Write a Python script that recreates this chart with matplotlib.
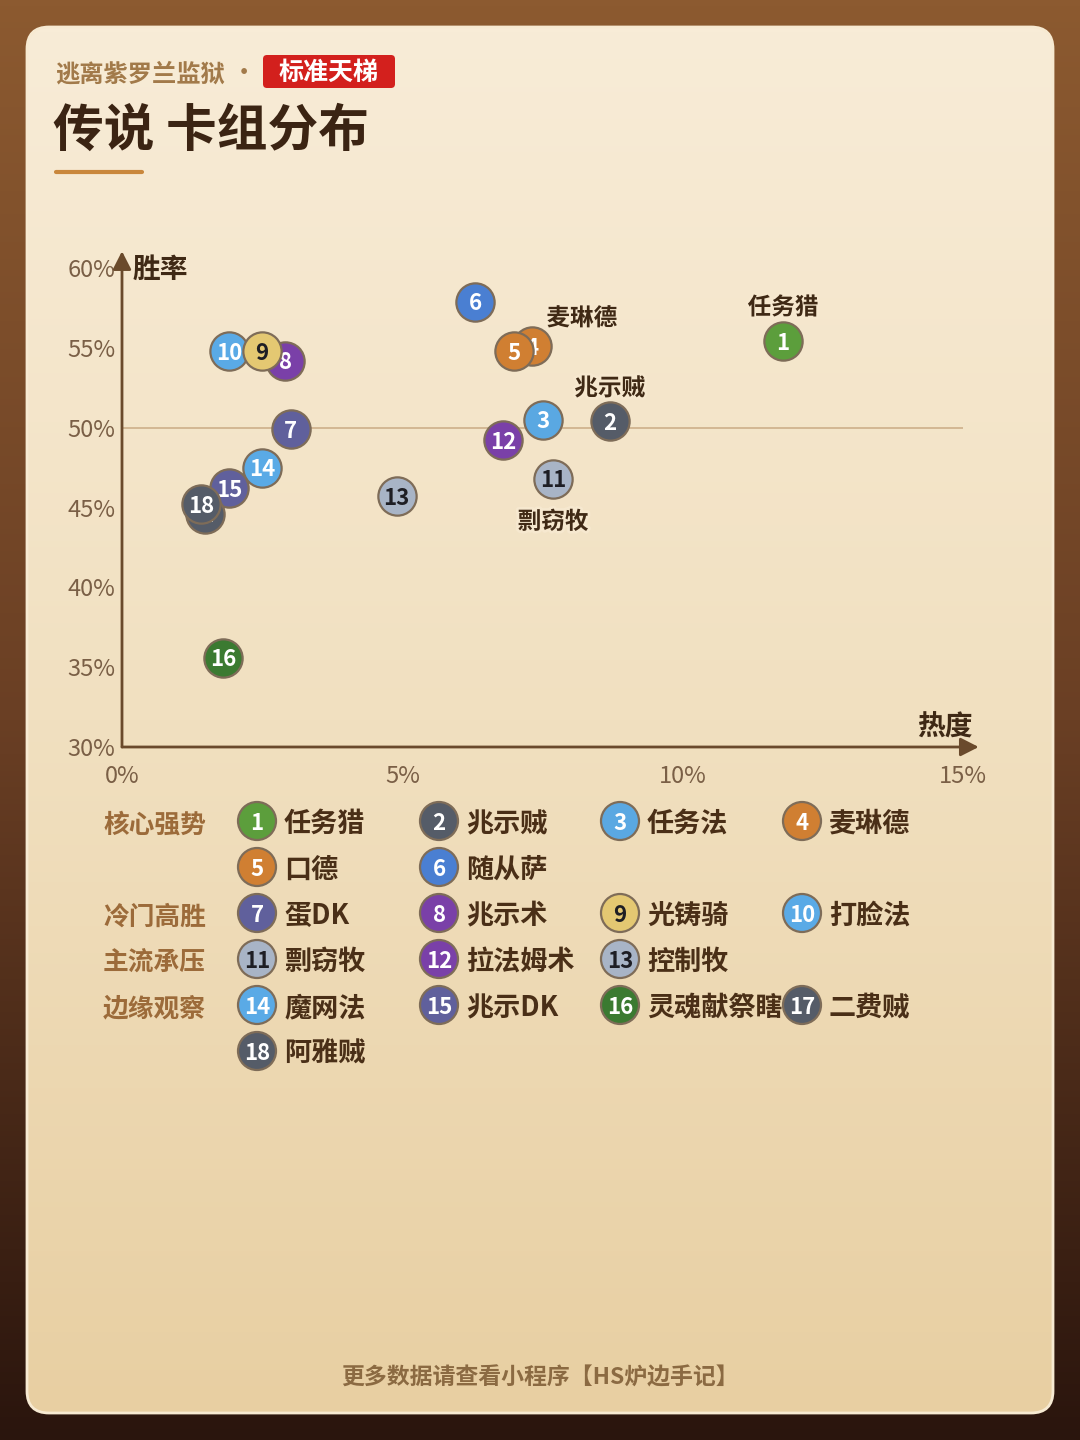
import numpy as np
import matplotlib.pyplot as plt
from matplotlib.patches import FancyBboxPatch, Circle
from matplotlib.colors import LinearSegmentedColormap
import matplotlib.patheffects as pe

plt.rcParams['font.family'] = ['Noto Sans CJK SC', 'DejaVu Sans']

# deck data
deck_no = list(range(1, 19))
deck_names = ['任务猎', '兆示贼', '任务法', '麦琳德', '口德', '随从萨',
              '蛋DK', '兆示术', '光铸骑', '打脸法',
              '剽窃牧', '拉法姆术', '控制牧',
              '魔网法', '兆示DK', '灵魂献祭瞎', '二费贼', '阿雅贼']
popularity = [11.79, 8.70, 7.51, 7.31, 6.99, 6.30,
              3.01, 2.91, 2.50, 1.91,
              7.69, 6.80, 4.90,
              2.50, 1.91, 1.80, 1.48, 1.41]
win_rate = [55.4, 50.4, 50.5, 55.1, 54.8, 57.9,
            49.9, 54.2, 54.8, 54.8,
            46.8, 49.2, 45.7,
            47.5, 46.2, 35.6, 44.6, 45.2]
tiers = ['核心强势'] * 6 + ['冷门高胜'] * 4 + ['主流承压'] * 3 + ['边缘观察'] * 5
tier_names = ['核心强势', '冷门高胜', '主流承压', '边缘观察']
deck_colors = ['#5c9e3c', '#555c68', '#5aa8e2', '#d07f32', '#d07f32', '#4a7fd2',
               '#60609c', '#7a40a8', '#e4c872', '#5aaae6',
               '#a8b4c6', '#7a40a8', '#a8b4c6',
               '#5aaae6', '#60609c', '#3b7a31', '#555c68', '#555c68']
dark_num = [9, 11, 13]
labelled = [1, 2, 4, 11]
x_ticks = [0, 5, 10, 15]
y_ticks = [30, 35, 40, 45, 50, 55, 60]

# drawing order (10 sits under 9 in the source)
draw_order = [1, 2, 3, 4, 5, 6, 7, 8, 10, 9, 11, 12, 13, 14, 15, 16, 17, 18]

fig = plt.figure(figsize=(10.8, 14.4), dpi=100)
bg = fig.add_axes([0, 0, 1, 1])
bg.set_xlim(0, 1080)
bg.set_ylim(1440, 0)
bg.axis('off')

outer = LinearSegmentedColormap.from_list('outer', ['#8c5a30', '#6a3f24', '#2a150d'])
grad = np.linspace(0, 1, 256).reshape(-1, 1) * np.ones((1, 4))
bg.imshow(grad, extent=(0, 1080, 1440, 0), cmap=outer, aspect='auto', zorder=0)

card = FancyBboxPatch((27, 27), 1026, 1386, boxstyle='round,pad=0,rounding_size=22',
                      fc='none', ec='#f7ead2', lw=2, zorder=2)
bg.add_patch(card)
inner = LinearSegmentedColormap.from_list('card', ['#f8ecd7', '#f1e0c0', '#e8cfa2'])
im = bg.imshow(grad, extent=(27, 1053, 1413, 27), cmap=inner, aspect='auto', zorder=1)
im.set_clip_path(card)

# header
bg.text(55, 74, '逃离紫罗兰监狱', fontsize=17.5, weight='bold', color='#a27a4a', va='center')
bg.text(244, 74, '•', fontsize=16, weight='bold', color='#a27a4a', va='center', ha='center')
bg.add_patch(FancyBboxPatch((263, 55), 132, 33, boxstyle='round,pad=0,rounding_size=4',
                            fc='#d3201d', ec='none', zorder=3))
bg.text(329, 73, '标准天梯', fontsize=18, weight='bold', color='white',
        va='center', ha='center', zorder=4)
bg.text(53, 131, '传说 卡组分布', fontsize=36.5, weight='bold', color='#3b2413', va='center')
bg.plot([56, 142], [172, 172], lw=3, color='#c9873c', solid_capstyle='round')

# scatter panel
ax = fig.add_axes([122 / 1080, 1 - 747 / 1440, 841 / 1080, 479 / 1440])
ax.set_xlim(0, 15)
ax.set_ylim(30, 60)
ax.patch.set_alpha(0)
for s in ax.spines.values():
    s.set_visible(False)
ax.set_xticks(x_ticks)
ax.set_xticklabels([f'{t}%' for t in x_ticks])
ax.set_yticks(y_ticks)
ax.set_yticklabels([f'{t}%' for t in y_ticks])
ax.tick_params(length=0, labelsize=17, labelcolor='#7a5f46')
ax.tick_params(axis='x', pad=13)
ax.tick_params(axis='y', pad=5)

axis_col = '#6a4a2c'
ax.annotate('', xy=(15.28, 30), xytext=(0, 30), annotation_clip=False,
            arrowprops=dict(arrowstyle='-|>,head_length=0.55,head_width=0.28',
                            mutation_scale=20, color=axis_col, lw=2, shrinkA=0, shrinkB=0))
ax.annotate('', xy=(0, 61.05), xytext=(0, 30), annotation_clip=False,
            arrowprops=dict(arrowstyle='-|>,head_length=0.55,head_width=0.28',
                            mutation_scale=20, color=axis_col, lw=2, shrinkA=0, shrinkB=0))
ax.plot([0, 15], [50, 50], color='#cdb08a', lw=1.2, zorder=1)

for k, n in enumerate(draw_order):
    i = n - 1
    ax.scatter(popularity[i], win_rate[i], s=760, c=deck_colors[i], edgecolors='#7e6c58',
               linewidths=1.6, zorder=3 + k, clip_on=False)
    ax.annotate(str(n), (popularity[i], win_rate[i]), xytext=(0, -1.5),
                textcoords='offset points', ha='center', va='center',
                fontsize=16, weight='bold', zorder=3.5 + k,
                color='#1e1e24' if n in dark_num else 'white')

# names beside some points, offset in pixels
offsets = {1: (0, 34), 2: (0, 33), 4: (50, 28), 11: (0, -43)}
for n in labelled:
    i = n - 1
    dx, dy = offsets[n]
    ax.annotate(deck_names[i], (popularity[i], win_rate[i]), xytext=(dx * 0.72, dy * 0.72),
                textcoords='offset points', ha='center', va='center', fontsize=17,
                weight='bold', color='#3f2915', zorder=30,
                path_effects=[pe.withStroke(linewidth=4, foreground='#f6e8cf')])

bg.text(133, 270, '胜率', fontsize=20, weight='bold', color='#3f2915', va='center', zorder=5)
bg.text(973, 728, '热度', fontsize=20, weight='bold', color='#3f2915', va='center',
        ha='right', zorder=5)

# legend by tier
col_x = [257, 439, 620, 802]
row_y = 821
row_h = 46
for t in tier_names:
    idx = [i for i in range(18) if tiers[i] == t]
    bg.text(103, row_y + 4, t, fontsize=18.5, weight='bold', color='#9c6b3a',
            va='center', zorder=5)
    for j, i in enumerate(idx):
        cx = col_x[j % 4]
        cy = row_y + (j // 4) * row_h
        bg.add_patch(Circle((cx, cy), 19, fc=deck_colors[i], ec='#7e6c58', lw=1.6, zorder=5))
        bg.text(cx, cy + 2, str(deck_no[i]), ha='center', va='center', fontsize=16,
                weight='bold', zorder=6,
                color='#1e1e24' if deck_no[i] in dark_num else 'white')
        bg.text(cx + 27, cy + 3, deck_names[i], fontsize=19.5, weight='bold', color='#4a2f17',
                va='center', zorder=6)
    row_y += ((len(idx) - 1) // 4 + 1) * row_h

bg.text(540, 1378, '更多数据请查看小程序【HS炉边手记】', ha='center', va='center',
        fontsize=16.5, weight='bold', style='italic', color='#8b6a42', zorder=5)

fig.savefig('out.png', dpi=100)
